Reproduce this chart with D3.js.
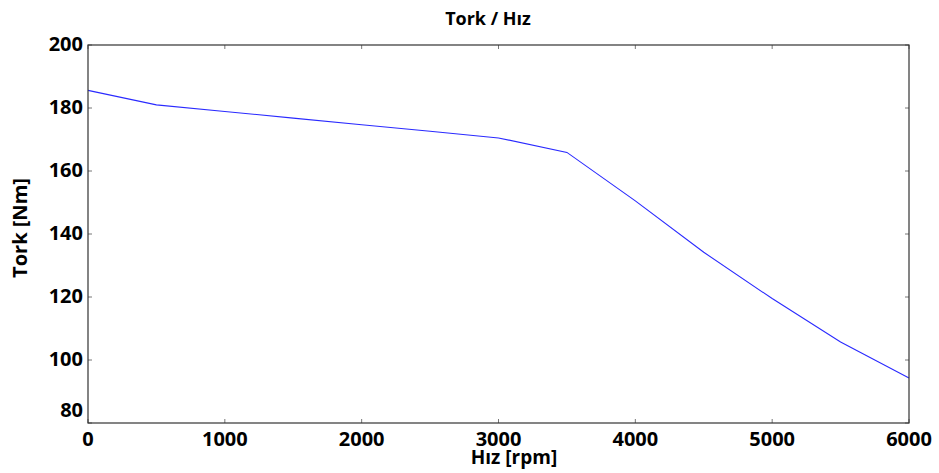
<!DOCTYPE html>
<html><head><meta charset="utf-8">
<script src="https://cdn.jsdelivr.net/npm/d3@7"></script>
<style>
body{margin:0;background:#fff;}
text{font-family:"Open Sans","Noto Sans",sans-serif;font-weight:bold;fill:#000;}
</style></head><body>
<svg id="c" width="939" height="473"></svg>
<script>
const speed = [0,500,1000,1500,2000,2500,3000,3500,4000,4500,5000,5500,6000];
const torque = [185.6,181.0,178.9,176.8,174.7,172.6,170.5,165.9,150.5,134.2,119.5,105.7,94.3];
const xTicks = [0,1000,2000,3000,4000,5000,6000];
const yTicks = [80,100,120,140,160,180,200];
const title = "Tork / Hız", xLabel = "Hız [rpm]", yLabel = "Tork [Nm]";

const svg = d3.select("#c");
const L=88, R=909, T=45, B=423;
const x = d3.scaleLinear().domain([0,6000]).range([L,R]);
const y = d3.scaleLinear().domain([80,200]).range([B,T]);

// ticks (inward, all four sides)
const tk = svg.append("g").attr("stroke","#777").attr("stroke-width",1);
xTicks.forEach(v=>{
  tk.append("line").attr("x1",x(v)).attr("x2",x(v)).attr("y1",B).attr("y2",B-4);
  tk.append("line").attr("x1",x(v)).attr("x2",x(v)).attr("y1",T).attr("y2",T+4);
});
yTicks.forEach(v=>{
  tk.append("line").attr("y1",y(v)).attr("y2",y(v)).attr("x1",L).attr("x2",L+4);
  tk.append("line").attr("y1",y(v)).attr("y2",y(v)).attr("x1",R).attr("x2",R-4);
});

// line
const line = d3.line().x((d,i)=>x(speed[i])).y(d=>y(d));
svg.append("path").datum(torque).attr("d",line).attr("fill","none")
  .attr("stroke","#2a2aff").attr("stroke-width",1.1);

// frame
svg.append("rect").attr("x",L).attr("y",T).attr("width",R-L).attr("height",B-T)
  .attr("fill","none").attr("stroke","#333").attr("stroke-width",1.2);

// tick labels
svg.append("g").selectAll("text").data(xTicks).join("text")
  .attr("x",d=>x(d)).attr("y",446).attr("text-anchor","middle")
  .style("font-size","20px").text(d=>d);
svg.append("g").selectAll("text").data(yTicks).join("text")
  .attr("x",83).attr("y",d=>d===80? y(d)-6 : y(d)+6).attr("text-anchor","end")
  .style("font-size","20px").text(d=>d);

// titles
svg.append("text").attr("x",488).attr("y",25).attr("text-anchor","middle")
  .style("font-size","18px").text(title);
svg.append("text").attr("x",514).attr("y",464).attr("text-anchor","middle")
  .style("font-size","19px").text(xLabel);
svg.append("text").attr("transform","translate(27,228) rotate(-90)").attr("text-anchor","middle")
  .style("font-size","20px").text(yLabel);
</script></body></html>
